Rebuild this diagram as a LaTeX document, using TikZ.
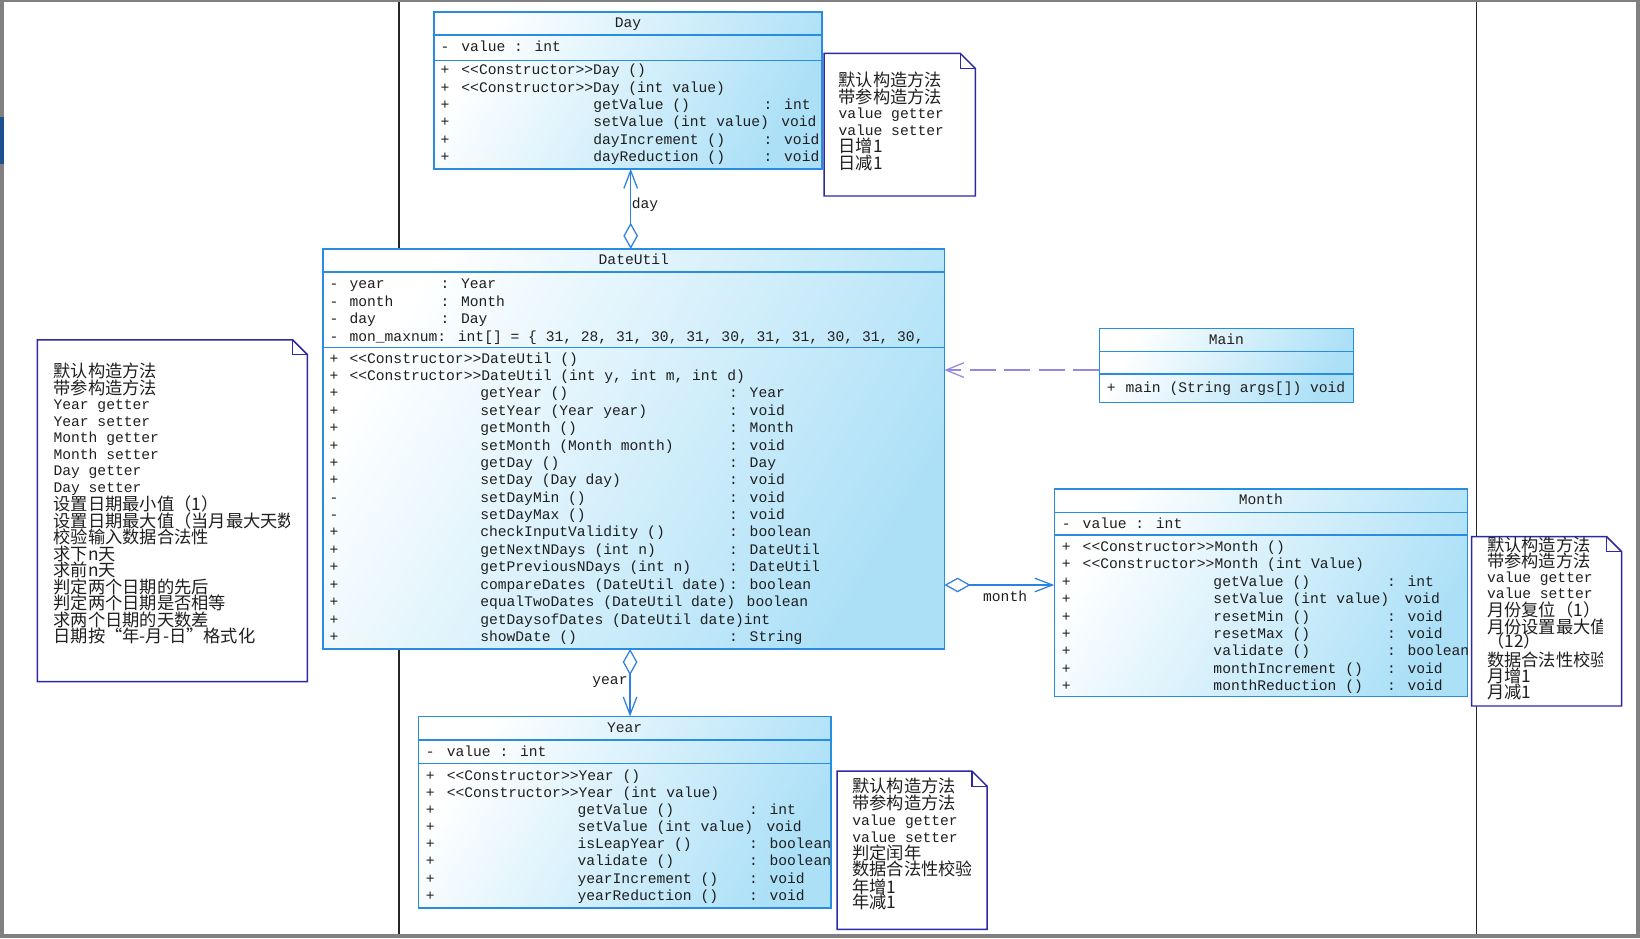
\documentclass[tikz,border=0pt]{standalone}
\usepackage{fontspec}
\newfontfamily\mono{Liberation Mono}
\newfontfamily\cjk{Noto Sans CJK SC}
\usetikzlibrary{arrows.meta}
\definecolor{clsblue}{RGB}{40,140,225}
\definecolor{clsfill}{RGB}{172,224,247}
\definecolor{linkblue}{RGB}{45,130,225}
\definecolor{notebd}{RGB}{45,40,165}
\definecolor{depcol}{RGB}{150,135,225}
\definecolor{framegray}{RGB}{128,128,128}
\definecolor{leftmark}{RGB}{30,80,145}
\newcommand\ctor{<{}<Constructor>{}>}
\newcommand\mcols[5]{\makebox[#1pt][l]{#3}\makebox[#2pt][l]{#4}#5}
\newcommand\ltx[4]{\node[txt] (#1) at (#2,#3) {#4};}
\newcommand\ctx[4]{\node[cjt] (#1) at (#2,#3) {#4};}
\newcommand\notebox[5]{%
  \draw[note] (#1,#2) -- (#3-#5,#2) -- (#3,#2+#5) -- (#3,#4) -- (#1,#4) -- cycle;
  \draw[notebd, line width=1.2pt] (#3-#5,#2) -- (#3-#5,#2+#5) -- (#3,#2+#5);}
\tikzset{
 cls/.style={draw=clsblue, line width=1.4pt, top color=white, bottom color=clsfill, shading angle=60, inner sep=0pt, outer sep=0pt},
 sepl/.style={draw=clsblue, line width=1.2pt},
 txt/.style={font=\mono\fontsize{14}{16}\selectfont, text=black!88, inner sep=0pt, anchor=base west, yshift=-4.5pt},
 ttl/.style={txt, anchor=base},
 cjt/.style={font=\cjk\fontsize{16.5}{16}\selectfont, text=black!88, inner sep=0pt, anchor=base west, yshift=-6pt},
 note/.style={draw=notebd, line width=1.4pt, fill=white},
 agg/.style={draw=linkblue, line width=1.2pt, {Diamond[open,length=25pt,width=14pt]}-{Straight Barb[length=17pt,width=13pt]}},
 dep/.style={draw=depcol, line width=1.2pt, dash pattern=on 25pt off 8pt, -{Straight Barb[length=17pt,width=14pt]}},
 pageline/.style={draw=black!85, line width=1.3pt},
}
\begin{document}
\begin{tikzpicture}[x=1pt,y=-1pt]
\useasboundingbox (0,0) rectangle (1568,897);
\fill[white] (0,0) rectangle (1568,897);
% page boundaries
\draw[pageline] (381.5,2) -- (381.5,893);
\draw[pageline] (1411.6,2) -- (1411.6,893);

% ---------- notes ----------
% Day note
\notebox{788}{51}{932.5}{187.4}{14.5}
\begin{scope}
\clip (788,51) rectangle (918,187.4);
\ctx{dn1}{801.5}{76.5}{默认构造方法}
\ctx{dn2}{801.5}{93}{带参构造方法}
\ltx{dn3}{801.5}{109}{value getter}
\ltx{dn4}{801.5}{125}{value setter}
\ctx{dn5}{801.5}{140.2}{日增1}
\ctx{dn6}{801.5}{156.2}{日减1}
\end{scope}

% DateUtil note
\notebox{35.7}{325}{293.8}{651.7}{14}
\begin{scope}
\clip (35.7,325) rectangle (277,651.7);
\ctx{un1}{51}{355.3}{默认构造方法}
\ctx{un2}{51}{371.1}{带参构造方法}
\ltx{un3}{51}{387}{Year getter}
\ltx{un4}{51}{402.8}{Year setter}
\ltx{un5}{51}{418.7}{Month getter}
\ltx{un6}{51}{434.5}{Month setter}
\ltx{un7}{51}{450.3}{Day getter}
\ltx{un8}{51}{466.2}{Day setter}
\ctx{un9}{51}{482}{设置日期最小值（1）}
\ctx{un10}{51}{497.9}{设置日期最大值（当月最大天数）}
\ctx{un11}{51}{513.7}{校验输入数据合法性}
\ctx{un12}{51}{529.5}{求下n天}
\ctx{un13}{51}{545.4}{求前n天}
\ctx{un14}{51}{561.2}{判定两个日期的先后}
\ctx{un15}{51}{577}{判定两个日期是否相等}
\ctx{un16}{51}{592.9}{求两个日期的天数差}
\ctx{un17}{51}{608.7}{日期按“年-月-日”格式化}
\end{scope}

% Month note
\notebox{1407}{513}{1550.5}{675}{14.5}
\begin{scope}
\clip (1407,513) rectangle (1532,675);
\ctx{mn1}{1421.7}{521}{默认构造方法}
\ctx{mn2}{1421.7}{537}{带参构造方法}
\ltx{mn3}{1421.7}{552}{value getter}
\ltx{mn4}{1421.7}{568}{value setter}
\ctx{mn5}{1421.7}{583.5}{月份复位（1）}
\ctx{mn6}{1421.7}{599.8}{月份设置最大值}
\ctx{mn7}{1421.7}{613.5}{（12）}
\ctx{mn8}{1421.7}{631}{数据合法性校验}
\ctx{mn9}{1421.7}{647}{月增1}
\ctx{mn10}{1421.7}{662}{月减1}
\end{scope}

% Year note
\notebox{800.3}{737.2}{943.7}{888.5}{14.5}
\begin{scope}
\clip (800.3,737.2) rectangle (928,888.5);
\ctx{yn1}{814.7}{752}{默认构造方法}
\ctx{yn2}{814.7}{768}{带参构造方法}
\ltx{yn3}{814.7}{785}{value getter}
\ltx{yn4}{814.7}{800.6}{value setter}
\ctx{yn5}{814.7}{815.3}{判定闰年}
\ctx{yn6}{814.7}{831.2}{数据合法性校验}
\ctx{yn7}{814.7}{847.8}{年增1}
\ctx{yn8}{814.7}{863}{年减1}
\end{scope}

% ---------- classes ----------
% Day
\node[cls, minimum width=371pt, minimum height=150pt] (day) at (600.5,86.5) {};
\draw[sepl] (415,33.5) -- (786,33.5);
\draw[sepl] (415,57.5) -- (786,57.5);
\node[ttl] (dayt) at (600.5,21.7) {Day};
\ltx{d1}{421}{44.6}{\makebox[20pt][l]{-}value : int}
\ltx{d2}{421}{66.9}{\makebox[20pt][l]{+}\ctor Day ()}
\ltx{d3}{421}{83.5}{\makebox[20pt][l]{+}\ctor Day (int value)}
\ltx{d4}{421}{100.4}{\mcols{146}{163}{+}{getValue ()}{: int}}
\ltx{d5}{421}{116.3}{\mcols{146}{163}{+}{setValue (int value)}{\phantom{:} void}}
\ltx{d6}{421}{133.2}{\mcols{146}{163}{+}{dayIncrement ()}{: void}}
\ltx{d7}{421}{149.8}{\mcols{146}{163}{+}{dayReduction ()}{: void}}

% DateUtil
\node[cls, minimum width=594pt, minimum height=382.5pt] (dateutil) at (606,429.25) {};
\draw[sepl] (309,260) -- (903,260);
\draw[sepl] (309,332.5) -- (903,332.5);
\node[ttl] (dateutilt) at (606,248) {DateUtil};
\ltx{u1}{315}{270.9}{\mcols{19}{87}{-}{year}{: Year}}
\ltx{u2}{315}{288.4}{\mcols{19}{87}{-}{month}{: Month}}
\ltx{u3}{315}{305}{\mcols{19}{87}{-}{day}{: Day}}
\ltx{u4}{315}{321.9}{\makebox[19pt][l]{-}mon\_maxnum: int[] = \{ 31, 28, 31, 30, 31, 30, 31, 31, 30, 31, 30,}
\ltx{um1}{315}{342.6}{\makebox[19pt][l]{+}\ctor DateUtil ()}
\ltx{um2}{315}{359.2}{\makebox[19pt][l]{+}\ctor DateUtil (int y, int m, int d)}
\ltx{um3}{315}{375.9}{\mcols{144}{238}{+}{getYear ()}{: Year}}
\ltx{um4}{315}{392.5}{\mcols{144}{238}{+}{setYear (Year year)}{: void}}
\ltx{um5}{315}{409.1}{\mcols{144}{238}{+}{getMonth ()}{: Month}}
\ltx{um6}{315}{425.8}{\mcols{144}{238}{+}{setMonth (Month month)}{: void}}
\ltx{um7}{315}{442.4}{\mcols{144}{238}{+}{getDay ()}{: Day}}
\ltx{um8}{315}{459}{\mcols{144}{238}{+}{setDay (Day day)}{: void}}
\ltx{um9}{315}{475.6}{\mcols{144}{238}{-}{setDayMin ()}{: void}}
\ltx{um10}{315}{492.3}{\mcols{144}{238}{-}{setDayMax ()}{: void}}
\ltx{um11}{315}{508.9}{\mcols{144}{238}{+}{checkInputValidity ()}{: boolean}}
\ltx{um12}{315}{525.5}{\mcols{144}{238}{+}{getNextNDays (int n)}{: DateUtil}}
\ltx{um13}{315}{542.2}{\mcols{144}{238}{+}{getPreviousNDays (int n)}{: DateUtil}}
\ltx{um14}{315}{558.8}{\mcols{144}{238}{+}{compareDates (DateUtil date)}{: boolean}}
\ltx{um15}{315}{575.4}{\mcols{144}{238}{+}{equalTwoDates (DateUtil date)}{\phantom{:} boolean}}
\ltx{um16}{315}{592.1}{\mcols{144}{238}{+}{getDaysofDates (DateUtil date)int}{}}
\ltx{um17}{315}{608.7}{\mcols{144}{238}{+}{showDate ()}{: String}}

% Main
\node[cls, minimum width=243pt, minimum height=71pt] (main) at (1172.5,349.5) {};
\draw[sepl] (1051,336) -- (1294,336);
\draw[sepl] (1051,357.5) -- (1294,357.5);
\node[ttl] (maint) at (1172.5,324.5) {Main};
\ltx{m1}{1058}{370.3}{\makebox[18pt][l]{+}main (String args[]) void}

% Month
\node[cls, minimum width=395pt, minimum height=198.5pt] (month) at (1205.5,566.75) {};
\draw[sepl] (1008,490) -- (1403,490);
\draw[sepl] (1008,511.5) -- (1403,511.5);
\node[ttl] (montht) at (1205.5,478) {Month};
\ltx{mo1}{1015}{500.4}{\makebox[20pt][l]{-}value : int}
\ltx{mo2}{1015}{522.7}{\makebox[20pt][l]{+}\ctor Month ()}
\ltx{mo3}{1015}{539.4}{\makebox[20pt][l]{+}\ctor Month (int Value)}
\ltx{mo4}{1015}{556}{\mcols{145}{166}{+}{getValue ()}{: int}}
\ltx{mo5}{1015}{572.7}{\mcols{145}{166}{+}{setValue (int value)}{\phantom{:} void}}
\ltx{mo6}{1015}{589.3}{\mcols{145}{166}{+}{resetMin ()}{: void}}
\ltx{mo7}{1015}{606}{\mcols{145}{166}{+}{resetMax ()}{: void}}
\ltx{mo8}{1015}{622.6}{\mcols{145}{166}{+}{validate ()}{: boolean}}
\ltx{mo9}{1015}{639.3}{\mcols{145}{166}{+}{monthIncrement ()}{: void}}
\ltx{mo10}{1015}{655.9}{\mcols{145}{166}{+}{monthReduction ()}{: void}}

% Year
\node[cls, minimum width=394.5pt, minimum height=183pt] (year) at (597.25,776.5) {};
\draw[sepl] (400,707.5) -- (794.5,707.5);
\draw[sepl] (400,730) -- (794.5,730);
\node[ttl] (yeart) at (597.25,695.7) {Year};
\ltx{y1}{407}{718.7}{\makebox[20pt][l]{-}value : int}
\ltx{y2}{407}{741.9}{\makebox[20pt][l]{+}\ctor Year ()}
\ltx{y3}{407}{757.5}{\makebox[20pt][l]{+}\ctor Year (int value)}
\ltx{y4}{407}{774.4}{\mcols{145}{164}{+}{getValue ()}{: int}}
\ltx{y5}{407}{790.4}{\mcols{145}{164}{+}{setValue (int value)}{\phantom{:} void}}
\ltx{y6}{407}{807}{\mcols{145}{164}{+}{isLeapYear ()}{: boolean}}
\ltx{y7}{407}{822.9}{\mcols{145}{164}{+}{validate ()}{: boolean}}
\ltx{y8}{407}{840.4}{\mcols{145}{164}{+}{yearIncrement ()}{: void}}
\ltx{y9}{407}{856.4}{\mcols{145}{164}{+}{yearReduction ()}{: void}}

% ---------- connectors ----------
\coordinate (dayx) at (603,0);
\coordinate (yearx) at (602.4,0);
\coordinate (mony) at (0,559.3);
\coordinate (depy) at (0,353.8);
\draw[agg] (dateutil.north -| dayx) -- (day.south -| dayx);
\draw[agg] (dateutil.south -| yearx) -- (year.north -| yearx);
\draw[agg] (dateutil.east |- mony) -- (month.west |- mony);
\draw[dep] (main.west |- depy) -- (dateutil.east |- depy);
\node[ttl] (lday) at (616.7,194.4) {day};
\node[ttl] (lyear) at (583.2,650.2) {year};
\node[ttl] (lmonth) at (961,570.5) {month};

% ---------- window frame ----------
\fill[framegray] (0,0) rectangle (4,897);
\fill[framegray] (0,0) rectangle (1568,2);
\fill[framegray] (1564,0) rectangle (1568,897);
\fill[framegray] (0,893) rectangle (1568,897);
\fill[leftmark] (0,111.5) rectangle (4,157);
\end{tikzpicture}
\end{document}
